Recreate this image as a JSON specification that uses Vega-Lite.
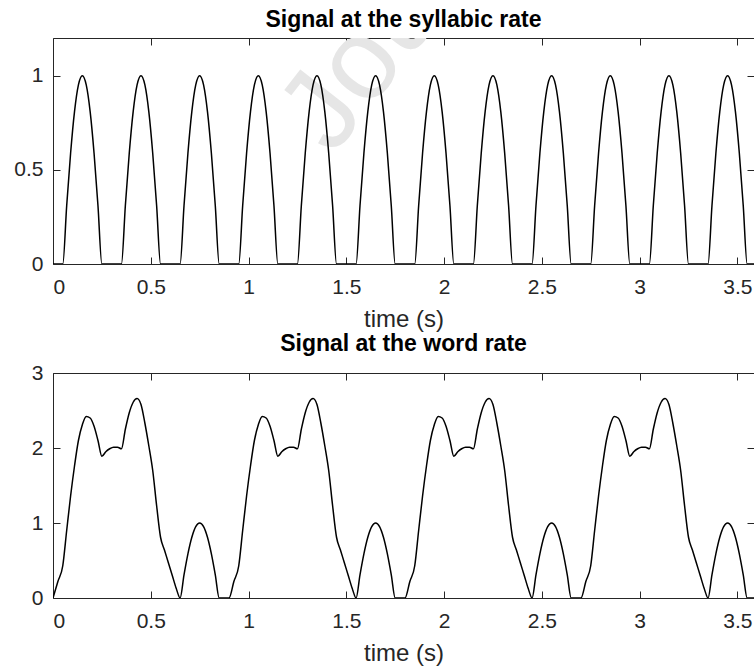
{
  "$schema": "https://vega.github.io/schema/vega-lite/v6.json",
  "background": "white",
  "padding": {"left": 13, "top": 8, "right": 0, "bottom": 0},
  "config": {
    "font": "Liberation Sans",
    "view": {"stroke": "#262626", "strokeWidth": 1},
    "axis": {
      "grid": false, "domain": false,
      "tickColor": "#262626", "tickSize": -7, "tickWidth": 1,
      "labelColor": "#262626", "labelFont": "Liberation Sans", "labelFontSize": 21,
      "titleFont": "Liberation Sans", "titleFontSize": 24, "titleFontWeight": "normal", "titleColor": "#262626", "titlePadding": 10
    },
    "axisX": {"labelPadding": 19},
    "axisY": {"labelPadding": 17},
    "title": {"font": "Liberation Sans", "fontSize": 23, "fontWeight": "bold", "color": "black", "offset": 6},
    "concat": {"spacing": 0}
  },
  "datasets": {
    "mark": [
      {"text": "Journal Pre-proof", "t": 1.43, "v": 0.57}
    ],
    "syll": [
      {"t":0,"v":0},
      {"t":0.05,"v":0},{"t":0.07,"v":0.309},{"t":0.09,"v":0.588},{"t":0.11,"v":0.809},{"t":0.13,"v":0.951},{"t":0.15,"v":1},{"t":0.17,"v":0.951},{"t":0.19,"v":0.809},{"t":0.21,"v":0.588},{"t":0.23,"v":0.309},{"t":0.25,"v":0},
      {"t":0.35,"v":0},{"t":0.37,"v":0.309},{"t":0.39,"v":0.588},{"t":0.41,"v":0.809},{"t":0.43,"v":0.951},{"t":0.45,"v":1},{"t":0.47,"v":0.951},{"t":0.49,"v":0.809},{"t":0.51,"v":0.588},{"t":0.53,"v":0.309},{"t":0.55,"v":0},
      {"t":0.65,"v":0},{"t":0.67,"v":0.309},{"t":0.69,"v":0.588},{"t":0.71,"v":0.809},{"t":0.73,"v":0.951},{"t":0.75,"v":1},{"t":0.77,"v":0.951},{"t":0.79,"v":0.809},{"t":0.81,"v":0.588},{"t":0.83,"v":0.309},{"t":0.85,"v":0},
      {"t":0.95,"v":0},{"t":0.97,"v":0.309},{"t":0.99,"v":0.588},{"t":1.01,"v":0.809},{"t":1.03,"v":0.951},{"t":1.05,"v":1},{"t":1.07,"v":0.951},{"t":1.09,"v":0.809},{"t":1.11,"v":0.588},{"t":1.13,"v":0.309},{"t":1.15,"v":0},
      {"t":1.25,"v":0},{"t":1.27,"v":0.309},{"t":1.29,"v":0.588},{"t":1.31,"v":0.809},{"t":1.33,"v":0.951},{"t":1.35,"v":1},{"t":1.37,"v":0.951},{"t":1.39,"v":0.809},{"t":1.41,"v":0.588},{"t":1.43,"v":0.309},{"t":1.45,"v":0},
      {"t":1.55,"v":0},{"t":1.57,"v":0.309},{"t":1.59,"v":0.588},{"t":1.61,"v":0.809},{"t":1.63,"v":0.951},{"t":1.65,"v":1},{"t":1.67,"v":0.951},{"t":1.69,"v":0.809},{"t":1.71,"v":0.588},{"t":1.73,"v":0.309},{"t":1.75,"v":0},
      {"t":1.85,"v":0},{"t":1.87,"v":0.309},{"t":1.89,"v":0.588},{"t":1.91,"v":0.809},{"t":1.93,"v":0.951},{"t":1.95,"v":1},{"t":1.97,"v":0.951},{"t":1.99,"v":0.809},{"t":2.01,"v":0.588},{"t":2.03,"v":0.309},{"t":2.05,"v":0},
      {"t":2.15,"v":0},{"t":2.17,"v":0.309},{"t":2.19,"v":0.588},{"t":2.21,"v":0.809},{"t":2.23,"v":0.951},{"t":2.25,"v":1},{"t":2.27,"v":0.951},{"t":2.29,"v":0.809},{"t":2.31,"v":0.588},{"t":2.33,"v":0.309},{"t":2.35,"v":0},
      {"t":2.45,"v":0},{"t":2.47,"v":0.309},{"t":2.49,"v":0.588},{"t":2.51,"v":0.809},{"t":2.53,"v":0.951},{"t":2.55,"v":1},{"t":2.57,"v":0.951},{"t":2.59,"v":0.809},{"t":2.61,"v":0.588},{"t":2.63,"v":0.309},{"t":2.65,"v":0},
      {"t":2.75,"v":0},{"t":2.77,"v":0.309},{"t":2.79,"v":0.588},{"t":2.81,"v":0.809},{"t":2.83,"v":0.951},{"t":2.85,"v":1},{"t":2.87,"v":0.951},{"t":2.89,"v":0.809},{"t":2.91,"v":0.588},{"t":2.93,"v":0.309},{"t":2.95,"v":0},
      {"t":3.05,"v":0},{"t":3.07,"v":0.309},{"t":3.09,"v":0.588},{"t":3.11,"v":0.809},{"t":3.13,"v":0.951},{"t":3.15,"v":1},{"t":3.17,"v":0.951},{"t":3.19,"v":0.809},{"t":3.21,"v":0.588},{"t":3.23,"v":0.309},{"t":3.25,"v":0},
      {"t":3.35,"v":0},{"t":3.37,"v":0.309},{"t":3.39,"v":0.588},{"t":3.41,"v":0.809},{"t":3.43,"v":0.951},{"t":3.45,"v":1},{"t":3.47,"v":0.951},{"t":3.49,"v":0.809},{"t":3.51,"v":0.588},{"t":3.53,"v":0.309},{"t":3.55,"v":0},
      {"t":3.6,"v":0}
    ],
    "word": [
      {"t":0,"v":0},{"t":0.025,"v":0.22},{"t":0.05,"v":0.43},{"t":0.07,"v":0.9},{"t":0.09,"v":1.36},{"t":0.11,"v":1.76},{"t":0.13,"v":2.1},{"t":0.15,"v":2.31},{"t":0.17,"v":2.42},{"t":0.19,"v":2.4},{"t":0.21,"v":2.29},{"t":0.23,"v":2.1},{"t":0.25,"v":1.89},{"t":0.27,"v":1.95},{"t":0.29,"v":1.99},{"t":0.31,"v":2.01},{"t":0.33,"v":2.01},{"t":0.35,"v":1.99},{"t":0.37,"v":2.25},{"t":0.39,"v":2.47},{"t":0.41,"v":2.61},{"t":0.43,"v":2.66},{"t":0.45,"v":2.58},{"t":0.47,"v":2.33},{"t":0.49,"v":2.03},{"t":0.51,"v":1.7},{"t":0.53,"v":1.23},{"t":0.55,"v":0.81},{"t":0.57,"v":0.64},{"t":0.59,"v":0.47},{"t":0.61,"v":0.3},{"t":0.63,"v":0.13},{"t":0.65,"v":0},{"t":0.67,"v":0.309},{"t":0.69,"v":0.588},{"t":0.71,"v":0.809},{"t":0.73,"v":0.951},{"t":0.75,"v":1},{"t":0.77,"v":0.951},{"t":0.79,"v":0.809},{"t":0.81,"v":0.588},{"t":0.83,"v":0.309},{"t":0.85,"v":0},
      {"t":0.9,"v":0},{"t":0.925,"v":0.22},{"t":0.95,"v":0.43},{"t":0.97,"v":0.9},{"t":0.99,"v":1.36},{"t":1.01,"v":1.76},{"t":1.03,"v":2.1},{"t":1.05,"v":2.31},{"t":1.07,"v":2.42},{"t":1.09,"v":2.4},{"t":1.11,"v":2.29},{"t":1.13,"v":2.1},{"t":1.15,"v":1.89},{"t":1.17,"v":1.95},{"t":1.19,"v":1.99},{"t":1.21,"v":2.01},{"t":1.23,"v":2.01},{"t":1.25,"v":1.99},{"t":1.27,"v":2.25},{"t":1.29,"v":2.47},{"t":1.31,"v":2.61},{"t":1.33,"v":2.66},{"t":1.35,"v":2.58},{"t":1.37,"v":2.33},{"t":1.39,"v":2.03},{"t":1.41,"v":1.7},{"t":1.43,"v":1.23},{"t":1.45,"v":0.81},{"t":1.47,"v":0.64},{"t":1.49,"v":0.47},{"t":1.51,"v":0.3},{"t":1.53,"v":0.13},{"t":1.55,"v":0},{"t":1.57,"v":0.309},{"t":1.59,"v":0.588},{"t":1.61,"v":0.809},{"t":1.63,"v":0.951},{"t":1.65,"v":1},{"t":1.67,"v":0.951},{"t":1.69,"v":0.809},{"t":1.71,"v":0.588},{"t":1.73,"v":0.309},{"t":1.75,"v":0},
      {"t":1.8,"v":0},{"t":1.825,"v":0.22},{"t":1.85,"v":0.43},{"t":1.87,"v":0.9},{"t":1.89,"v":1.36},{"t":1.91,"v":1.76},{"t":1.93,"v":2.1},{"t":1.95,"v":2.31},{"t":1.97,"v":2.42},{"t":1.99,"v":2.4},{"t":2.01,"v":2.29},{"t":2.03,"v":2.1},{"t":2.05,"v":1.89},{"t":2.07,"v":1.95},{"t":2.09,"v":1.99},{"t":2.11,"v":2.01},{"t":2.13,"v":2.01},{"t":2.15,"v":1.99},{"t":2.17,"v":2.25},{"t":2.19,"v":2.47},{"t":2.21,"v":2.61},{"t":2.23,"v":2.66},{"t":2.25,"v":2.58},{"t":2.27,"v":2.33},{"t":2.29,"v":2.03},{"t":2.31,"v":1.7},{"t":2.33,"v":1.23},{"t":2.35,"v":0.81},{"t":2.37,"v":0.64},{"t":2.39,"v":0.47},{"t":2.41,"v":0.3},{"t":2.43,"v":0.13},{"t":2.45,"v":0},{"t":2.47,"v":0.309},{"t":2.49,"v":0.588},{"t":2.51,"v":0.809},{"t":2.53,"v":0.951},{"t":2.55,"v":1},{"t":2.57,"v":0.951},{"t":2.59,"v":0.809},{"t":2.61,"v":0.588},{"t":2.63,"v":0.309},{"t":2.65,"v":0},
      {"t":2.7,"v":0},{"t":2.725,"v":0.22},{"t":2.75,"v":0.43},{"t":2.77,"v":0.9},{"t":2.79,"v":1.36},{"t":2.81,"v":1.76},{"t":2.83,"v":2.1},{"t":2.85,"v":2.31},{"t":2.87,"v":2.42},{"t":2.89,"v":2.4},{"t":2.91,"v":2.29},{"t":2.93,"v":2.1},{"t":2.95,"v":1.89},{"t":2.97,"v":1.95},{"t":2.99,"v":1.99},{"t":3.01,"v":2.01},{"t":3.03,"v":2.01},{"t":3.05,"v":1.99},{"t":3.07,"v":2.25},{"t":3.09,"v":2.47},{"t":3.11,"v":2.61},{"t":3.13,"v":2.66},{"t":3.15,"v":2.58},{"t":3.17,"v":2.33},{"t":3.19,"v":2.03},{"t":3.21,"v":1.7},{"t":3.23,"v":1.23},{"t":3.25,"v":0.81},{"t":3.27,"v":0.64},{"t":3.29,"v":0.47},{"t":3.31,"v":0.3},{"t":3.33,"v":0.13},{"t":3.35,"v":0},{"t":3.37,"v":0.309},{"t":3.39,"v":0.588},{"t":3.41,"v":0.809},{"t":3.43,"v":0.951},{"t":3.45,"v":1},{"t":3.47,"v":0.951},{"t":3.49,"v":0.809},{"t":3.51,"v":0.588},{"t":3.53,"v":0.309},{"t":3.55,"v":0},
      {"t":3.6,"v":0}
    ]
  },
  "vconcat": [
    {
      "title": "Signal at the syllabic rate",
      "width": 701,
      "height": 226,
      "layer": [
        {
          "data": {"name": "mark"},
          "mark": {"type": "text", "color": "#e6e6e6", "fontSize": 115, "angle": -52, "align": "left", "baseline": "alphabetic", "clip": true},
          "encoding": {
            "x": {"field": "t", "type": "quantitative", "axis": null},
            "y": {"field": "v", "type": "quantitative", "axis": null},
            "text": {"field": "text"}
          }
        },
        {
          "data": {"name": "syll"},
          "mark": {"type": "line", "color": "black", "strokeWidth": 1.5, "interpolate": "monotone", "clip": true},
          "encoding": {
            "x": {"field": "t", "type": "quantitative", "scale": {"domain": [0, 3.585], "nice": false, "zero": false},
                  "axis": {"values": [0, 0.5, 1, 1.5, 2, 2.5, 3, 3.5], "title": "time (s)", "labelExpr": "'' + datum.value"}},
            "y": {"field": "v", "type": "quantitative", "scale": {"domain": [0, 1.2], "nice": false},
                  "axis": {"values": [0, 0.5, 1], "title": null, "labelExpr": "'' + datum.value"}}
          }
        },
        {
          "data": {"name": "syll"},
          "mark": {"type": "line", "strokeOpacity": 0, "clip": true},
          "encoding": {
            "x": {"field": "t", "type": "quantitative", "axis": {"orient": "top", "values": [0, 0.5, 1, 1.5, 2, 2.5, 3, 3.5], "labels": false, "title": null}},
            "y": {"field": "v", "type": "quantitative", "axis": {"orient": "right", "values": [0, 0.5, 1], "labels": false, "title": null}}
          }
        }
      ],
      "resolve": {"axis": {"x": "independent", "y": "independent"}}
    },
    {
      "title": "Signal at the word rate",
      "width": 701,
      "height": 225,
      "data": {"name": "word"},
      "layer": [
        {
          "mark": {"type": "line", "color": "black", "strokeWidth": 1.5, "interpolate": "monotone", "clip": true},
          "encoding": {
            "x": {"field": "t", "type": "quantitative", "scale": {"domain": [0, 3.585], "nice": false, "zero": false},
                  "axis": {"values": [0, 0.5, 1, 1.5, 2, 2.5, 3, 3.5], "title": "time (s)", "labelExpr": "'' + datum.value"}},
            "y": {"field": "v", "type": "quantitative", "scale": {"domain": [0, 3], "nice": false},
                  "axis": {"values": [0, 1, 2, 3], "title": null, "labelExpr": "'' + datum.value"}}
          }
        },
        {
          "mark": {"type": "line", "strokeOpacity": 0, "clip": true},
          "encoding": {
            "x": {"field": "t", "type": "quantitative", "axis": {"orient": "top", "values": [0, 0.5, 1, 1.5, 2, 2.5, 3, 3.5], "labels": false, "title": null}},
            "y": {"field": "v", "type": "quantitative", "axis": {"orient": "right", "values": [0, 1, 2, 3], "labels": false, "title": null}}
          }
        }
      ],
      "resolve": {"axis": {"x": "independent", "y": "independent"}}
    }
  ]
}
